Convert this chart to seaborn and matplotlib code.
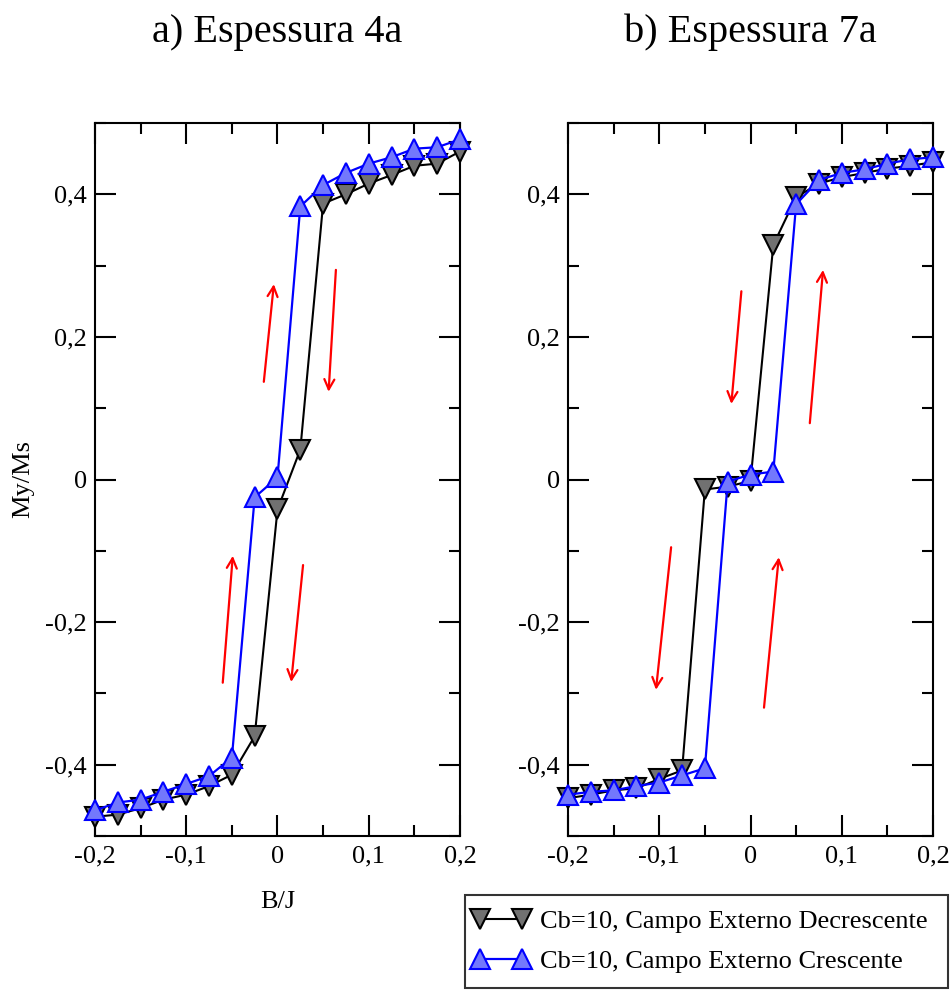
import matplotlib
matplotlib.use("Agg")
import matplotlib.pyplot as plt
from matplotlib.lines import Line2D
from matplotlib.legend_handler import HandlerLine2D
from matplotlib.ticker import MultipleLocator, FixedLocator, FixedFormatter
import seaborn as sns
import pandas as pd

# ---------------- data ----------------
B_field = [-0.2, -0.175, -0.15, -0.125, -0.1, -0.075, -0.05, -0.025, 0.0,
           0.025, 0.05, 0.075, 0.1, 0.125, 0.15, 0.175, 0.2]

a_decrescente = [-0.473, -0.470, -0.461, -0.449, -0.442, -0.430, -0.414, -0.360, -0.042,
                 0.042, 0.387, 0.400, 0.415, 0.427, 0.440, 0.443, 0.460]
a_crescente = [-0.464, -0.453, -0.449, -0.438, -0.427, -0.416, -0.390, -0.025, 0.003,
               0.383, 0.413, 0.430, 0.443, 0.452, 0.464, 0.466, 0.477]

b_decrescente = [-0.447, -0.442, -0.436, -0.433, -0.420, -0.408, -0.014, -0.010, -0.002,
                 0.329, 0.396, 0.415, 0.424, 0.430, 0.436, 0.440, 0.445]
b_crescente = [-0.442, -0.438, -0.436, -0.430, -0.425, -0.415, -0.405, -0.003, 0.007,
               0.011, 0.386, 0.420, 0.430, 0.435, 0.443, 0.449, 0.452]

# arrows: (x_tail, y_tail, x_head, y_head)
arrows_a = [(-0.015, 0.137, -0.004, 0.274),
            (0.064, 0.294, 0.056, 0.123),
            (-0.060, -0.285, -0.049, -0.107),
            (0.028, -0.120, 0.015, -0.284)]
arrows_b = [(-0.010, 0.264, -0.021, 0.106),
            (0.065, 0.079, 0.0795, 0.294),
            (-0.087, -0.095, -0.1036, -0.295),
            (0.0148, -0.320, 0.031, -0.109)]

titles = ["a) Espessura 4a", "b) Espessura 7a"]
legend_labels = ["Cb=10, Campo Externo Decrescente", "Cb=10, Campo Externo Crescente"]
x_ticks = [-0.2, -0.1, 0.0, 0.1, 0.2]
x_ticklabels = ["-0,2", "-0,1", "0", "0,1", "0,2"]
y_ticks = [-0.4, -0.2, 0.0, 0.2, 0.4]
y_ticklabels = ["-0,4", "-0,2", "0", "0,2", "0,4"]

# ---------------- style ----------------
sns.set_theme(style="ticks")
plt.rcParams["font.family"] = ["Liberation Serif", "DejaVu Serif"]
plt.rcParams["text.color"] = "black"
plt.rcParams["axes.labelcolor"] = "black"
plt.rcParams["xtick.color"] = "black"
plt.rcParams["ytick.color"] = "black"

W, H = 953, 990
fig = plt.figure(figsize=(W / 100, H / 100), dpi=100)

gray_face = "#717171"
blue_face = "#7378fc"
blue_edge = "#0000ff"

def px_rect(left, top, right, bottom):
    return [left / W, 1 - bottom / H, (right - left) / W, (bottom - top) / H]

ax_a = fig.add_axes(px_rect(95, 123, 460, 836))
ax_b = fig.add_axes(px_rect(568, 123, 933, 836))

panels = [(ax_a, a_decrescente, a_crescente, arrows_a),
          (ax_b, b_decrescente, b_crescente, arrows_b)]

for ax, dec, inc, arrows in panels:
    df_dec = pd.DataFrame({"B": B_field, "M": dec})
    df_inc = pd.DataFrame({"B": B_field, "M": inc})
    sns.lineplot(data=df_dec, x="B", y="M", ax=ax, sort=False, color="black",
                 linewidth=1.5, marker="v", markersize=14,
                 markerfacecolor=gray_face, markeredgecolor="black",
                 markeredgewidth=1.5, clip_on=False, zorder=3)
    sns.lineplot(data=df_inc, x="B", y="M", ax=ax, sort=False, color=blue_edge,
                 linewidth=1.6, marker="^", markersize=14,
                 markerfacecolor=blue_face, markeredgecolor=blue_edge,
                 markeredgewidth=1.5, clip_on=False, zorder=4)
    for (x0, y0, x1, y1) in arrows:
        ax.annotate("", xy=(x1, y1), xytext=(x0, y0),
                    arrowprops=dict(arrowstyle="->", color="red", lw=1.6,
                                    mutation_scale=18, shrinkA=0, shrinkB=0))
    ax.set_xlim(-0.2, 0.2)
    ax.set_ylim(-0.5, 0.5)
    ax.xaxis.set_major_locator(FixedLocator(x_ticks))
    ax.xaxis.set_major_formatter(FixedFormatter(x_ticklabels))
    ax.yaxis.set_major_locator(FixedLocator(y_ticks))
    ax.yaxis.set_major_formatter(FixedFormatter(y_ticklabels))
    ax.xaxis.set_minor_locator(MultipleLocator(0.05))
    ax.yaxis.set_minor_locator(MultipleLocator(0.1))
    ax.tick_params(which="both", direction="in", top=True, right=True,
                   width=1.5, color="black", labelsize=19, labelcolor="black")
    ax.tick_params(which="major", length=15)
    ax.tick_params(which="minor", length=8)
    ax.tick_params(axis="x", pad=7)
    ax.tick_params(axis="y", pad=6)
    for s in ax.spines.values():
        s.set_linewidth(1.5)
        s.set_color("black")
        s.set_visible(True)
    ax.set_xlabel("")
    ax.set_ylabel("")
    ax.set_facecolor("white")

ax_a.set_xlabel("B/J", fontsize=19, labelpad=17)
ax_a.set_ylabel("My/Ms", fontsize=19, labelpad=8)

fig.text(277.5 / W, 1 - 42 / H, titles[0], ha="center", va="baseline",
         fontsize=29, color="black")
fig.text(750.5 / W, 1 - 42 / H, titles[1], ha="center", va="baseline",
         fontsize=29, color="black")

handles = [
    Line2D([], [], color="black", linewidth=1.5, marker="v", markersize=14,
           markerfacecolor=gray_face, markeredgecolor="black", markeredgewidth=1.5),
    Line2D([], [], color=blue_edge, linewidth=1.6, marker="^", markersize=14,
           markerfacecolor=blue_face, markeredgecolor=blue_edge, markeredgewidth=1.5),
]
leg = fig.legend(handles, legend_labels, loc="lower left",
                 bbox_to_anchor=(465 / W, 2 / H, 483 / W, 93 / H), mode="expand",
                 numpoints=2, fontsize=19,
                 handler_map={Line2D: HandlerLine2D(marker_pad=0.0)},
                 frameon=True, fancybox=False, edgecolor="black",
                 handlelength=1.6, handletextpad=0.68, borderpad=0.56,
                 labelspacing=0.63, borderaxespad=0)
leg.get_frame().set_linewidth(1.5)

fig.savefig("out.png", dpi=100, facecolor="white")
